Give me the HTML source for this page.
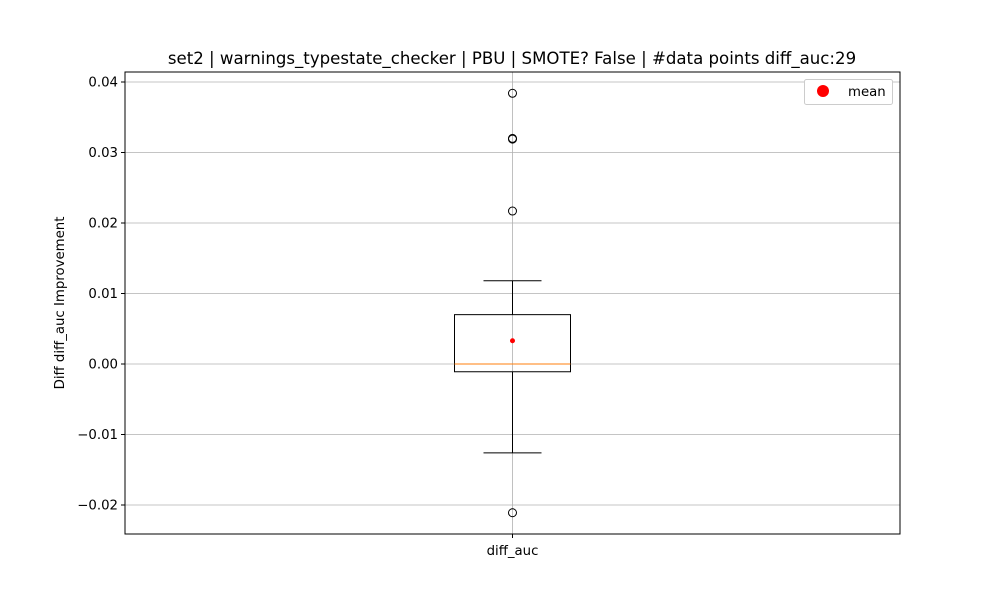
<!DOCTYPE html>
<html><head><meta charset="utf-8"><style>
body{margin:0;background:#fff;font-family:"DejaVu Sans","Liberation Sans",sans-serif}
svg text{font-family:"DejaVu Sans","Liberation Sans",sans-serif}
</style></head><body>
<svg id="chart" width="1000" height="600" xmlns="http://www.w3.org/2000/svg">
<rect width="1000" height="600" fill="#fff"/>
<text x="512" y="64" font-size="16.6" text-anchor="middle">set2 | warnings_typestate_checker | PBU | SMOTE? False | #data points diff_auc:29</text>
<g id="grid"></g><g id="marks"></g><g id="axes"></g>
<text transform="translate(64,303) rotate(-90)" font-size="13.3" text-anchor="middle">Diff diff_auc Improvement</text>
<g>
<rect x="804.5" y="79.5" width="88" height="25" fill="#fff" stroke="#ccc" rx="2"/>
<circle cx="823" cy="91" r="6" fill="red"/>
<text x="848" y="96" font-size="13.3">mean</text>
</g>
</svg>
<script>
const categories=["diff_auc"];
const q1=[-0.0011];
const median=[0.0];
const q3=[0.0070];
const whiskerLow=[-0.0126];
const whiskerHigh=[0.0118];
const means=[0.0033];
const outliers=[[0.0384,0.0319,0.0320,0.0217,-0.0211]];
const yTicks=[-0.02,-0.01,0.00,0.01,0.02,0.03,0.04];
const yTickLabels=["\u22120.02","\u22120.01","0.00","0.01","0.02","0.03","0.04"];
const L=125,R=900,T=72,B=534;
const y=v=>364-v*7050;
const x=i=>L+(R-L)*(i+0.5)/categories.length;
const NS="http://www.w3.org/2000/svg";
function mk(tag,attrs,parent){const e=document.createElementNS(NS,tag);for(const k in attrs)e.setAttribute(k,attrs[k]);document.getElementById(parent).appendChild(e);return e;}
yTicks.forEach((v,i)=>{
 const g=mk('line',{x1:L,x2:R,y1:y(v),y2:y(v),stroke:'#b0b0b0','stroke-width':0.8},'grid');
 
 
 const t=mk('line',{x1:L-4,x2:L,y1:y(v),y2:y(v),stroke:'#000'},'axes');
 
 
 const l=mk('text',{x:L-7,y:y(v)+4.5,'font-size':13.3,'text-anchor':'end'},'axes');l.textContent=yTickLabels[i];
 
 
});
categories.forEach((c,i)=>{
 const cx=x(i);
 const vg=mk('line',{x1:cx,x2:cx,y1:T,y2:B,stroke:'#b0b0b0','stroke-width':0.8},'grid');
 
 
 const hw=58,cw=29;
 const w1=mk('line',{x1:cx,x2:cx,y1:y(q3[i]),y2:y(whiskerHigh[i]),stroke:'#000'},'marks');
 
 
 const w2=mk('line',{x1:cx,x2:cx,y1:y(q1[i]),y2:y(whiskerLow[i]),stroke:'#000'},'marks');
 
 
 const c1=mk('line',{x1:cx-cw,x2:cx+cw,y1:y(whiskerHigh[i]),y2:y(whiskerHigh[i]),stroke:'#000'},'marks');
 
 
 const c2=mk('line',{x1:cx-cw,x2:cx+cw,y1:y(whiskerLow[i]),y2:y(whiskerLow[i]),stroke:'#000'},'marks');
 
 
 const b=mk('rect',{x:cx-hw,y:y(q3[i]),width:2*hw,height:y(q1[i])-y(q3[i]),fill:'none',stroke:'#000'},'marks');
 
 
 const m=mk('line',{x1:cx-hw,x2:cx+hw,y1:y(median[i]),y2:y(median[i]),stroke:'#ff7f0e'},'marks');
 
 
 outliers[i].forEach(v=>{
  const o=mk('circle',{cx:cx,cy:y(v),r:4,fill:'none',stroke:'#000'},'marks');
  
  
 });
 const mn=mk('circle',{cx:cx,cy:y(means[i]),r:2.5,fill:'red'},'marks');
 
 
 const xt=mk('line',{x1:cx,x2:cx,y1:B,y2:B+4,stroke:'#000'},'axes');
 
 
 const xl=mk('text',{x:cx,y:B+21,'font-size':13.3,'text-anchor':'middle'},'axes');xl.textContent=c;
 
 
});
const fr=mk('rect',{x:L,y:T,width:R-L,height:B-T,fill:'none',stroke:'#000'},'axes');


</script>
</body></html>
